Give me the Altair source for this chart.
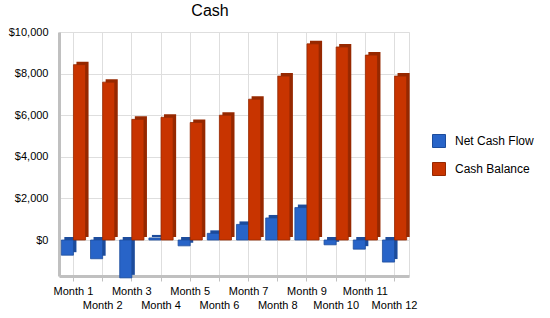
import altair as alt
import pandas as pd

months = [f"Month {i}" for i in range(1, 13)]
net_cash_flow = [-730, -900, -1820, 100, -280, 320, 750, 1060, 1560, -230, -440, -1060]
cash_balance = [8430, 7590, 5800, 5900, 5650, 6000, 6770, 7880, 9430, 9280, 8890, 7880]
series = ["Net Cash Flow", "Cash Balance"]
face_colors = ["#2864c8", "#c83400"]
side_colors = ["#1d4c9c", "#962800"]

rows = []
for m, n, c in zip(months, net_cash_flow, cash_balance):
    rows.append({"month": m, "series": series[0], "value": n})
    rows.append({"month": m, "series": series[1], "value": c})
df = pd.DataFrame(rows)

FONT = "Liberation Sans"
W, H = 350, 244
PAD_IN, PAD_OUT = 0.17, 0.08
step = W / (len(months) - PAD_IN + 2 * PAD_OUT)
bw = step * (1 - PAD_IN)
DEPTH = 3

x_enc = alt.X(
    "month:N",
    sort=months,
    title=None,
    scale=alt.Scale(paddingInner=PAD_IN, paddingOuter=PAD_OUT),
    axis=alt.Axis(
        labelExpr="parseInt(substring(datum.label, 6)) % 2 == 0 ? ['', datum.label] : datum.label",
        labelAngle=0,
        labelOverlap=False,
        labelLineHeight=14,
        labelFontSize=11,
        labelColor="#000000",
        labelFont=FONT,
        labelPadding=4,
        tickSize=5,
        tickColor="#c0c0c0",
        domainColor="#c0c0c0",
        domainWidth=3,
        grid=True,
        gridColor="#dedede",
    ),
)
y_enc = alt.Y(
    "value:Q",
    title=None,
    scale=alt.Scale(domain=[-1730, 10000], nice=False, zero=False),
    axis=alt.Axis(
        values=[0, 2000, 4000, 6000, 8000, 10000],
        format="$,.0f",
        ticks=False,
        labelPadding=11,
        labelFontSize=11,
        labelColor="#000000",
        labelFont=FONT,
        domainColor="#c0c0c0",
        domainWidth=3,
        gridColor="#dedede",
    ),
)

side = alt.Chart(df).mark_bar(yOffset=-DEPTH, y2Offset=-DEPTH).encode(
    x=x_enc,
    y=y_enc,
    xOffset=alt.XOffset("series:N", sort=series,
                        scale=alt.Scale(paddingInner=0.0, range=[DEPTH, bw + DEPTH])),
    color=alt.Color("series:N", sort=series, scale=alt.Scale(domain=series, range=side_colors), legend=None),
)

front = alt.Chart(df).mark_bar(strokeWidth=0.8).encode(
    x=x_enc,
    y=y_enc,
    xOffset=alt.XOffset("series:N", sort=series, scale=alt.Scale(paddingInner=0.0, range=[0, bw])),
    fill=alt.Fill(
        "series:N",
        sort=series,
        scale=alt.Scale(domain=series, range=face_colors),
        legend=alt.Legend(
            title=None,
            orient="none",
            legendX=373,
            legendY=102,
            symbolType="square",
            symbolSize=169,
            symbolStrokeColor="#1a3f80",
            symbolStrokeWidth=1,
            labelFontSize=12,
            labelFont=FONT,
            labelColor="#000000",
            rowPadding=10,
            labelOffset=9,
        ),
    ),
    stroke=alt.Stroke("series:N", sort=series, scale=alt.Scale(domain=series, range=side_colors), legend=None),
)

chart = (
    alt.layer(side, front)
    .resolve_scale(color="independent", xOffset="independent")
    .properties(
        width=W,
        height=H,
        title=alt.TitleParams("Cash", fontSize=16, font=FONT, fontWeight="normal", color="#000000", offset=7, dx=-24),
        autosize=alt.AutoSizeParams(type="none"),
        padding={"left": 59, "top": 32, "right": 141, "bottom": 42},
    )
    .configure_view(stroke="#c0c0c0", strokeWidth=1)
    .configure(background="#ffffff")
)

chart.save("out.html", embed_options={"renderer": "svg", "actions": False})
